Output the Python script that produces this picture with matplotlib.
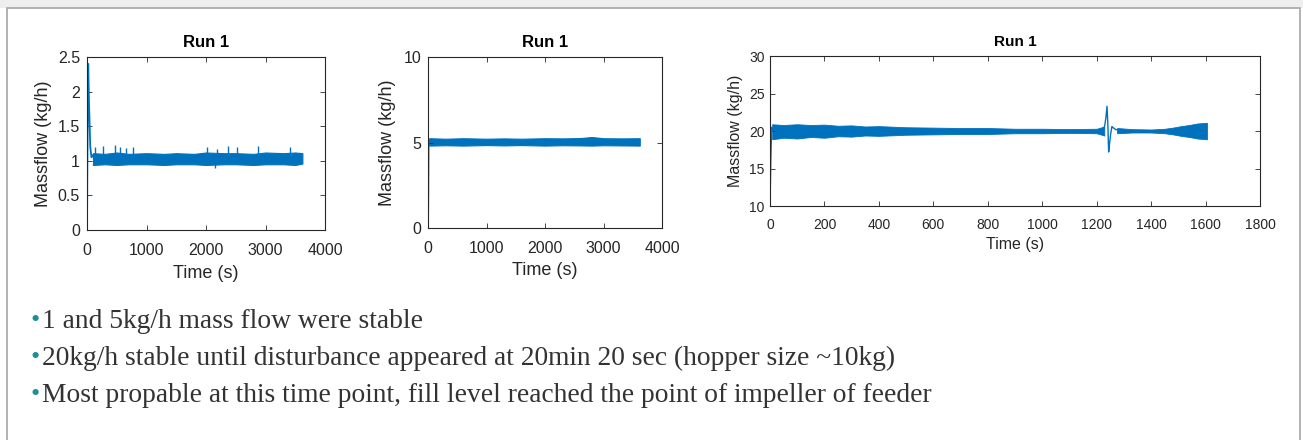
import matplotlib.pyplot as plt
from matplotlib.patches import Rectangle

# --- data ---
# run at 1 kg/h: start-up transient, then a noisy band around 1
r1_start_t = [0, 3, 6, 20, 35, 55, 75, 100]
r1_start_v = [0, 0.5, 1.0, 2.4, 1.8, 1.2, 1.05, 1.08]
r1_band_t = [100, 300, 500, 700, 1000, 1300, 1500, 1800, 2000, 2300, 2500, 2800, 3000, 3300, 3500, 3620]
r1_band_hi = [1.11, 1.10, 1.12, 1.10, 1.11, 1.10, 1.11, 1.10, 1.12, 1.11, 1.11, 1.10, 1.12, 1.11, 1.12, 1.11]
r1_band_lo = [0.94, 0.95, 0.94, 0.95, 0.95, 0.94, 0.95, 0.95, 0.94, 0.95, 0.95, 0.94, 0.95, 0.95, 0.94, 0.96]
r1_spike_t = [130, 270, 465, 550, 660, 775, 2010, 2180, 2375, 2515, 2880, 3410]
r1_spike_v = [1.20, 1.22, 1.23, 1.20, 1.18, 1.20, 1.20, 1.17, 1.22, 1.20, 1.22, 1.20]
r1_dip_t = [2150]
r1_dip_v = [0.90]

# run at 5 kg/h
r2_start_t = [0, 5, 10, 20]
r2_start_v = [0, 2.0, 5.0, 5.1]
r2_band_t = [20, 300, 600, 1000, 1300, 1600, 2000, 2300, 2600, 2800, 3000, 3300, 3620]
r2_band_hi = [5.25, 5.22, 5.25, 5.22, 5.24, 5.22, 5.25, 5.24, 5.26, 5.32, 5.25, 5.24, 5.25]
r2_band_lo = [4.82, 4.84, 4.82, 4.85, 4.83, 4.85, 4.82, 4.84, 4.83, 4.82, 4.84, 4.83, 4.82]

# run at 20 kg/h with disturbance at ~1240 s
r3_start_t = [0, 3, 6, 10]
r3_start_v = [10, 16, 20.5, 20.0]
r3_band1_t = [8, 50, 100, 150, 200, 250, 300, 350, 400, 500, 600, 700, 800, 900, 1000, 1100, 1200, 1228]
r3_band1_hi = [20.9, 20.8, 20.9, 20.8, 20.85, 20.7, 20.75, 20.6, 20.65, 20.5, 20.45, 20.4, 20.4, 20.3, 20.3, 20.25, 20.3, 20.6]
r3_band1_lo = [18.9, 19.1, 19.0, 19.2, 19.1, 19.3, 19.25, 19.4, 19.35, 19.5, 19.55, 19.6, 19.6, 19.7, 19.7, 19.75, 19.7, 19.4]
r3_dist_t = [1225, 1230, 1234, 1238, 1241, 1244, 1247, 1251, 1256, 1262, 1270, 1280]
r3_dist_v = [20.2, 20.8, 21.8, 23.3, 21.0, 17.2, 18.2, 19.5, 20.6, 20.4, 20.2, 20.1]
r3_band2_t = [1275, 1330, 1400, 1450, 1480, 1510, 1540, 1570, 1605]
r3_band2_hi = [20.4, 20.25, 20.2, 20.3, 20.45, 20.65, 20.8, 21.0, 21.1]
r3_band2_lo = [19.7, 19.8, 19.8, 19.7, 19.55, 19.35, 19.2, 19.0, 18.9]

bullets = [
    "1 and 5kg/h mass flow were stable",
    "20kg/h stable until disturbance appeared at 20min 20 sec (hopper size ~10kg)",
    "Most propable at this time point, fill level reached the point of impeller of feeder",
]

blue = '#0072BD'
dark = '#262626'
font = 'Liberation Sans'
W, H = 1303, 440

fig = plt.figure(figsize=(13.03, 4.40), dpi=100)

# slide frame
fig.patches.append(Rectangle((0, 1 - 8 / H), 1, 8 / H, transform=fig.transFigure,
                             facecolor='#eeeeee', edgecolor='none'))
fig.patches.append(Rectangle((6.5 / W, -0.01), (1300 - 6.5) / W, 1 - 8 / H + 0.01,
                             transform=fig.transFigure, facecolor='none',
                             edgecolor='#a6a6a6', linewidth=1.2))


def style(ax, tick_fs, xpad, ypad):
    for s in ax.spines.values():
        s.set_color(dark)
        s.set_linewidth(0.8)
    ax.tick_params(direction='in', top=True, right=True, length=3.5, width=0.6,
                   colors=dark, labelsize=tick_fs)
    ax.tick_params(axis='x', pad=xpad)
    ax.tick_params(axis='y', pad=ypad)
    for lbl in ax.get_xticklabels() + ax.get_yticklabels():
        lbl.set_fontfamily(font)


# plot 1
ax1 = fig.add_axes([87 / W, 1 - 230 / H, 238 / W, 173 / H])
ax1.fill_between(r1_band_t, r1_band_lo, r1_band_hi, color=blue, linewidth=0.8)
ax1.plot(r1_start_t, r1_start_v, color=blue, linewidth=1.3)
ax1.vlines(r1_spike_t, 1.05, r1_spike_v, color=blue, linewidth=1.0)
ax1.vlines(r1_dip_t, r1_dip_v, 1.0, color=blue, linewidth=1.0)
ax1.set_xlim(0, 4000)
ax1.set_ylim(0, 2.5)
ax1.set_xticks([0, 1000, 2000, 3000, 4000])
ax1.set_yticks([0, 0.5, 1, 1.5, 2, 2.5])
ax1.set_yticklabels(['0', '0.5', '1', '1.5', '2', '2.5'])
style(ax1, 11.5, 9.5, 5)
ax1.set_xlabel('Time (s)', fontsize=13, family=font, color=dark, labelpad=5)
ax1.set_ylabel('Massflow (kg/h)', fontsize=13, family=font, color=dark, labelpad=4)
ax1.set_title('Run 1', fontsize=12, family=font, fontweight='bold', pad=7)

# plot 2
ax2 = fig.add_axes([428 / W, 1 - 228 / H, 234 / W, 171 / H])
ax2.fill_between(r2_band_t, r2_band_lo, r2_band_hi, color=blue, linewidth=0.8)
ax2.plot(r2_start_t, r2_start_v, color=blue, linewidth=1.3)
ax2.set_xlim(0, 4000)
ax2.set_ylim(0, 10)
ax2.set_xticks([0, 1000, 2000, 3000, 4000])
ax2.set_yticks([0, 5, 10])
style(ax2, 11.5, 9, 5)
ax2.set_xlabel('Time (s)', fontsize=13, family=font, color=dark, labelpad=5)
ax2.set_ylabel('Massflow (kg/h)', fontsize=13, family=font, color=dark, labelpad=5)
ax2.set_title('Run 1', fontsize=12, family=font, fontweight='bold', pad=7)

# plot 3
ax3 = fig.add_axes([770 / W, 1 - 206 / H, 490 / W, 150 / H])
ax3.fill_between(r3_band1_t, r3_band1_lo, r3_band1_hi, color=blue, linewidth=0.6)
ax3.fill_between(r3_band2_t, r3_band2_lo, r3_band2_hi, color=blue, linewidth=0.6)
ax3.plot(r3_start_t, r3_start_v, color=blue, linewidth=1.0)
ax3.plot(r3_dist_t, r3_dist_v, color=blue, linewidth=1.0)
ax3.set_xlim(0, 1800)
ax3.set_ylim(10, 30)
ax3.set_xticks(range(0, 1801, 200))
ax3.set_yticks([10, 15, 20, 25, 30])
style(ax3, 10, 8.5, 4)
ax3.set_xlabel('Time (s)', fontsize=11.5, family=font, color=dark, labelpad=4)
ax3.set_ylabel('Massflow (kg/h)', fontsize=11.5, family=font, color=dark, labelpad=4)
ax3.set_title('Run 1', fontsize=11, family=font, fontweight='bold', pad=7)

# bullet text
for i, line in enumerate(bullets):
    y = 1 - (321 + 37 * i) / H
    fig.text(30 / W, y, '\u2022', color='#1b8f98', fontsize=19,
             family='Liberation Serif', va='center')
    fig.text(42 / W, y, line, color='#333333', fontsize=19.8,
             family='Liberation Serif', va='center')

fig.savefig('out.png', dpi=100)
